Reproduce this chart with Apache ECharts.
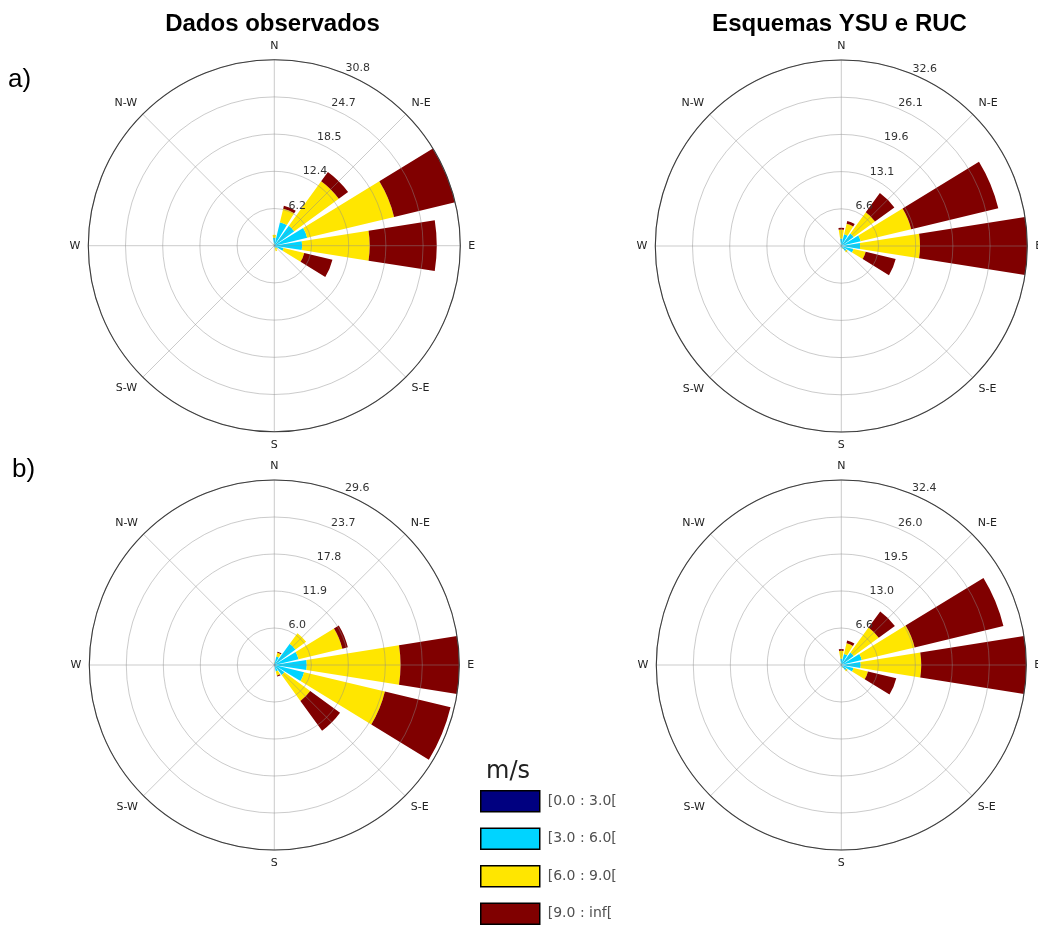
<!DOCTYPE html>
<html>
<head>
<meta charset="utf-8">
<script src="https://cdn.jsdelivr.net/npm/echarts@6/dist/echarts.min.js"></script>
<style>
  html, body { margin: 0; padding: 0; background: #ffffff; }
  #chart { width: 1038px; height: 925px; }
</style>
</head>
<body>
<div id="chart"></div>
<script>
// 16 wind sectors, clockwise from north
const directions = ['N', 'NNE', 'NE', 'ENE', 'E', 'ESE', 'SE', 'SSE', 'S', 'SSW', 'SW', 'WSW', 'W', 'WNW', 'NW', 'NNW'];
const compassLabels = ['N', 'N-E', 'E', 'S-E', 'S', 'S-W', 'W', 'N-W'];
const speedBins = ['[0.0 : 3.0[', '[3.0 : 6.0[', '[6.0 : 9.0[', '[9.0 : inf['];
const binColors = ['#000080', '#00d4ff', '#ffe600', '#800000'];

// a) observed data — frequency (%) per sector and speed bin
const obsA_0to3 = [0.1, 0.2, 0.2, 0.2, 0.2, 0.1, 0.1, 0.05, 0.05, 0.02, 0.02, 0.02, 0.02, 0.02, 0.02, 0.05];
const obsA_3to6 = [1.2, 3.8, 3.9, 5.4, 4.4, 1.5, 0.4, 0.3, 0.1, 0.05, 0.03, 0.03, 0.03, 0.03, 0.05, 0.2];
const obsA_6to9 = [0.5, 2.3, 9.1, 14.8, 11.2, 3.5, 0.2, 0.6, 0.05, 0, 0, 0, 0, 0, 0, 0.1];
const obsA_9up  = [0, 0.5, 1.9, 10.4, 11.1, 4.8, 0, 0, 0, 0, 0, 0, 0, 0, 0, 0];
const ringsObsA = ['6.2', '12.4', '18.5', '24.7', '30.8'];

// a) YSU + RUC schemes
const ysuA_0to3 = [0.1, 0.1, 0.1, 0.1, 0.1, 0.1, 0.1, 0.05, 0.05, 0.02, 0.02, 0.02, 0.02, 0.02, 0.02, 0.05];
const ysuA_3to6 = [1.2, 2.0, 2.6, 3.4, 3.2, 2.1, 1.0, 0.4, 0.1, 0.05, 0.03, 0.03, 0.03, 0.03, 0.05, 0.2];
const ysuA_6to9 = [1.6, 1.9, 4.6, 9.1, 10.5, 2.2, 0.3, 0.1, 0, 0, 0, 0, 0, 0, 0, 0.05];
const ysuA_9up  = [0.3, 0.5, 4.2, 15.7, 18.8, 5.4, 0, 0, 0, 0, 0, 0, 0, 0, 0, 0];
const ringsYsuA = ['6.6', '13.1', '19.6', '26.1', '32.6'];

// b) observed data
const obsB_0to3 = [0.05, 0.1, 0.2, 0.2, 0.2, 0.2, 0.1, 0.05, 0.05, 0.02, 0.02, 0.02, 0.02, 0.02, 0.02, 0.05];
const obsB_3to6 = [0.3, 1.3, 4.0, 3.8, 5.0, 4.7, 1.9, 1.0, 0.2, 0.05, 0.03, 0.03, 0.03, 0.03, 0.05, 0.1];
const obsB_6to9 = [0.1, 0.6, 2.1, 7.2, 15.0, 13.3, 5.1, 0.7, 0, 0, 0, 0, 0, 0, 0, 0];
const obsB_9up  = [0, 0.2, 0, 0.9, 9.4, 10.8, 5.9, 0.15, 0, 0, 0, 0, 0, 0, 0, 0];
const ringsObsB = ['6.0', '11.9', '17.8', '23.7', '29.6'];

// b) YSU + RUC schemes
const ysuB_0to3 = [0.1, 0.1, 0.1, 0.1, 0.1, 0.1, 0.1, 0.05, 0.05, 0.02, 0.02, 0.02, 0.02, 0.02, 0.02, 0.05];
const ysuB_3to6 = [1.0, 1.9, 2.6, 3.6, 3.3, 2.1, 1.0, 0.4, 0.1, 0.05, 0.03, 0.03, 0.03, 0.03, 0.05, 0.2];
const ysuB_6to9 = [1.4, 1.9, 5.4, 9.5, 10.6, 2.6, 0.3, 0.1, 0, 0, 0, 0, 0, 0, 0, 0.05];
const ysuB_9up  = [0.3, 0.5, 3.5, 16.0, 18.4, 5.1, 0, 0, 0, 0, 0, 0, 0, 0, 0, 0];
const ringsYsuB = ['6.6', '13.0', '19.5', '26.0', '32.4'];

const panels = [
  { center: [274.3, 245.7], radius: 186, rings: ringsObsA, bins: [obsA_0to3, obsA_3to6, obsA_6to9, obsA_9up] },
  { center: [841.3, 246],   radius: 186, rings: ringsYsuA, bins: [ysuA_0to3, ysuA_3to6, ysuA_6to9, ysuA_9up] },
  { center: [274.3, 665],   radius: 185, rings: ringsObsB, bins: [obsB_0to3, obsB_3to6, obsB_6to9, obsB_9up] },
  { center: [841.3, 665],   radius: 185, rings: ringsYsuB, bins: [ysuB_0to3, ysuB_3to6, ysuB_6to9, ysuB_9up] }
];

const gridColor = 'rgba(140,140,140,0.45)';
const polar = [], angleAxis = [], radiusAxis = [], series = [];

panels.forEach((p, k) => {
  const maxR = Number(p.rings[p.rings.length - 1]);
  const step = maxR / 5;

  // compass frame: outer circle, 8 spokes, concentric rings (drawn over the bars)
  const gi = polar.length;
  polar.push({ center: p.center, radius: p.radius });
  angleAxis.push({
    polarIndex: gi, type: 'value', min: 0, max: 360, interval: 45,
    startAngle: 90, clockwise: true, z: 6,
    axisLine: { show: true, lineStyle: { color: '#3c3c3c', width: 1.1 } },
    axisTick: { show: false },
    axisLabel: {
      show: true, margin: 8, color: '#222', fontSize: 11, fontFamily: 'DejaVu Sans',
      formatter: v => compassLabels[Math.round(v / 45)] || ''
    },
    splitLine: { show: true, lineStyle: { color: gridColor, width: 1 } }
  });
  radiusAxis.push({
    polarIndex: gi, type: 'value', min: 0, max: maxR, interval: step, z: 5,
    axisLine: { show: false }, axisTick: { show: false }, axisLabel: { show: false },
    splitLine: { show: true, lineStyle: { color: gridColor, width: 1 } }
  });

  // stacked sector bars
  const bi = polar.length;
  polar.push({ center: p.center, radius: p.radius });
  angleAxis.push({
    polarIndex: bi, type: 'category', data: directions,
    startAngle: 90 + 360 / 32, clockwise: true, boundaryGap: true,
    axisLine: { show: false }, axisTick: { show: false }, axisLabel: { show: false }, splitLine: { show: false }
  });
  radiusAxis.push({
    polarIndex: bi, type: 'value', min: 0, max: maxR,
    axisLine: { show: false }, axisTick: { show: false }, axisLabel: { show: false }, splitLine: { show: false }
  });

  // ring values, written along the NNE ray
  const li = polar.length;
  polar.push({ center: p.center, radius: p.radius });
  angleAxis.push({
    polarIndex: li, type: 'value', min: 0, max: 360,
    startAngle: 90 - 22.5, clockwise: true,
    axisLine: { show: false }, axisTick: { show: false }, axisLabel: { show: false }, splitLine: { show: false }
  });
  radiusAxis.push({
    polarIndex: li, type: 'value', min: 0, max: maxR, interval: step, z: 7,
    axisLine: { show: false }, axisTick: { show: false }, splitLine: { show: false },
    axisLabel: {
      show: true, margin: 0, align: 'left', verticalAlign: 'bottom',
      color: '#333', fontSize: 11, fontFamily: 'DejaVu Sans',
      formatter: v => { const i = Math.round(v / step); return i > 0 ? (p.rings[i - 1] || '') : ''; }
    }
  });

  p.bins.forEach((vals, j) => {
    series.push({
      type: 'bar', coordinateSystem: 'polar', polarIndex: bi,
      name: speedBins[j], stack: 'rose' + k, data: vals,
      barCategoryGap: '20%',
      itemStyle: { color: binColors[j] },
      z: 2, silent: true
    });
  });
});

const chart = echarts.init(document.getElementById('chart'), null, { renderer: 'canvas' });
chart.setOption({
  animation: false,
  backgroundColor: '#ffffff',
  textStyle: { fontFamily: 'DejaVu Sans' },
  polar, angleAxis, radiusAxis, series,
  legend: {
    orient: 'vertical', left: 480, top: 790, width: 160, height: 160, padding: 0,
    itemWidth: 59, itemHeight: 21, itemGap: 15,
    icon: 'rect', selectedMode: false, data: speedBins,
    textStyle: { fontSize: 14, color: '#505050', fontFamily: 'DejaVu Sans', padding: [0, 0, 0, 3] },
    itemStyle: { borderColor: '#000000', borderWidth: 1.5 }
  },
  graphic: [
    { type: 'text', x: 272.5, y: 24, style: { text: 'Dados observados', fontSize: 24, fontWeight: 'bold', fontFamily: 'Liberation Sans', fill: '#000', align: 'center', verticalAlign: 'middle' } },
    { type: 'text', x: 839.5, y: 24, style: { text: 'Esquemas YSU e RUC', fontSize: 24, fontWeight: 'bold', fontFamily: 'Liberation Sans', fill: '#000', align: 'center', verticalAlign: 'middle' } },
    { type: 'text', x: 8, y: 80, style: { text: 'a)', fontSize: 26, fontFamily: 'Liberation Sans', fill: '#000', align: 'left', verticalAlign: 'middle' } },
    { type: 'text', x: 12, y: 470, style: { text: 'b)', fontSize: 26, fontFamily: 'Liberation Sans', fill: '#000', align: 'left', verticalAlign: 'middle' } },
    { type: 'text', x: 486, y: 772, style: { text: 'm/s', fontSize: 24, fontFamily: 'DejaVu Sans', fill: '#222', align: 'left', verticalAlign: 'middle' } }
  ]
});
</script>
</body>
</html>
